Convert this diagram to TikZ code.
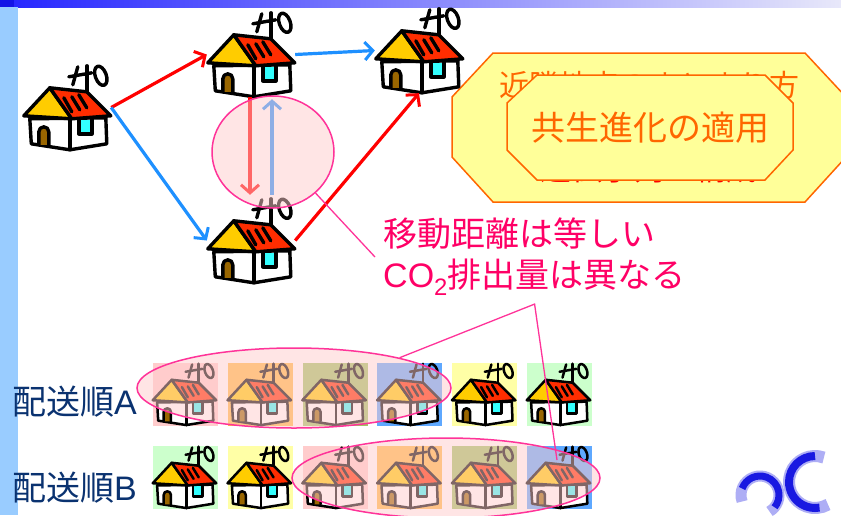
\documentclass[tikz,border=0pt]{standalone}
\usepackage{fontspec}
\setmainfont{Liberation Sans}
\newfontfamily\jp{Noto Sans CJK JP}
\usetikzlibrary{arrows.meta,shapes.geometric}

\definecolor{barblue}{RGB}{153,204,255}
\definecolor{topdark}{RGB}{20,20,230}
\definecolor{topmid}{RGB}{40,40,255}
\definecolor{topend}{RGB}{232,232,250}
\definecolor{octfill}{RGB}{255,255,153}
\definecolor{octline}{RGB}{255,102,0}
\definecolor{txtorange}{RGB}{255,102,0}
\definecolor{txtred}{RGB}{255,0,0}
\definecolor{txtpink}{RGB}{255,0,102}
\definecolor{leadpink}{RGB}{255,51,153}
\definecolor{veilpink}{RGB}{255,204,204}
\definecolor{arrred}{RGB}{255,0,0}
\definecolor{arrblue}{RGB}{30,144,255}
\definecolor{navy}{RGB}{10,50,112}
\definecolor{roofyel}{RGB}{255,204,0}
\definecolor{roofred}{RGB}{255,45,0}
\definecolor{doorbrn}{RGB}{153,102,0}
\definecolor{wincyan}{RGB}{51,255,255}
\definecolor{tpink}{RGB}{255,204,204}
\definecolor{torange}{RGB}{255,187,68}
\definecolor{tolive}{RGB}{160,196,100}
\definecolor{tblue}{RGB}{94,168,255}
\definecolor{tyellow}{RGB}{255,255,166}
\definecolor{tgreen}{RGB}{204,255,204}
\definecolor{logoblue}{RGB}{25,25,225}

\tikzset{
  hline/.style={line width=3.4pt, line join=round, line cap=round},
  smallhouse/.style={scale=0.73, hline/.style={line width=2.5pt, line join=round, line cap=round}},
  hbox/.style={rectangle, inner sep=0pt, minimum width=88pt, minimum height=85pt},
  arr/.style={line width=3.2pt, -{Straight Barb[length=8pt,width=18pt,line width=3pt]}},
  redarr/.style={arr, draw=arrred},
  bluearr/.style={arr, draw=arrblue},
  leader/.style={draw=leadpink, line width=1.3pt},
  veil/.style={fill=veilpink, fill opacity=0.5, draw=leadpink, line width=1.5pt},
  octa/.style={fill=octfill, draw=octline, line width=1.5pt, line join=miter},
  pics/house/.style={code={
    % walls
    \filldraw[fill=white, hline] (7,54) -- (8.5,79) -- (47,85) -- (84,79) -- (83,53) -- cycle;
    \draw[hline] (47,54) -- (47,85);
    % door
    \filldraw[fill=doorbrn, hline] (16,80) -- (16,67) arc[start angle=180, end angle=360, radius=5] -- (26,80);
    % window
    \fill[wincyan] (57,55) rectangle (68,68);
    \draw[hline] (56,54) -- (56,69) -- (69,69) -- (69,54);
    % roof
    \filldraw[fill=roofyel, hline] (1,51) -- (27,23) -- (49,54) -- cycle;
    \filldraw[fill=roofred, hline] (27,23) -- (64,27) -- (88,51) -- (49,54) -- cycle;
    \draw[hline] (41,33) -- (49,47) (49,32) -- (57,45) (56,30) -- (64,43);
    % antenna with the H and O
    \draw[hline] (64,1) -- (64,27);
    \draw[hline] (55,2) -- (50,20);
    \draw[hline] (46,12) -- (69,8);
    \draw[hline, rotate around={20:(78,11)}] (78,11) ellipse[x radius=5.5, y radius=10];
  }}
}

\begin{document}
\begin{tikzpicture}[x=1pt,y=-1pt]
\useasboundingbox (0,0) rectangle (841,515);
\fill[white] (0,0) rectangle (841,515);

% title bar and side bar
\shade[left color=topmid, right color=topend] (14,0) rectangle (841,7);
\fill[topdark] (0,0) rectangle (14,7);
\fill[barblue] (0,7) rectangle (18,515);

% octagon panels
\draw[octa] (452,97) -- (493,53) -- (805,53) -- (846,97) -- (846,157) -- (805,202) -- (493,202) -- (452,157) -- cycle;
\node[text=txtorange, font=\jp\fontsize{30pt}{36pt}\selectfont, inner sep=0pt] (o1) at (649,85) {近隣地点のまとまり方};
\node[text=txtred, font=\jp\fontsize{31pt}{36pt}\selectfont, inner sep=0pt] (o2) at (649,169) {遺伝子列の構成};
\draw[octa] (507,103) -- (537,75) -- (765,75) -- (793,103) -- (793,150) -- (765,180) -- (537,180) -- (507,150) -- cycle;
\node[text=txtorange, font=\jp\fontsize{34pt}{40pt}\selectfont, inner sep=0pt] (o3) at (650,128) {共生進化の適用};

% houses of the route graph
\node[hbox] (h1) at (67,107.5) {};
\node[hbox] (h2) at (251,54.5) {};
\node[hbox] (h3) at (419,50.5) {};
\node[hbox] (h4) at (251,240.5) {};
\foreach \h in {h1,h2,h3,h4} \pic at (\h.north west) {house};

% routes
\draw[redarr] (h1.east) -- (h2.west);
\draw[bluearr] (h1.east) -- (h4.west);
\draw[bluearr] (h2.east) -- (h3.west);
\draw[redarr] (h4.east) -- (h3.south);
\draw[redarr] ([xshift=-1pt]h2.south) -- ([xshift=-1pt,yshift=3pt]h4.north);
\draw[bluearr] ([xshift=21pt,yshift=3pt]h4.north) -- ([xshift=21pt,yshift=-2pt]h2.south);

% highlighted pair
\node[ellipse, veil, minimum width=122pt, minimum height=112pt, inner sep=0pt] (c1) at (273,152) {};

% annotation
\node[text=txtpink, font=\jp\fontsize{34pt}{41pt}\selectfont, align=left, inner sep=8pt, anchor=west] (t1) at (375,257)
  {移動距離は等しい\\{\rmfamily CO\textsubscript{2}}排出量は異なる};
\draw[leader] (c1.-44) -- (t1.west);

% delivery orders
\foreach \c [count=\i from 0] in {tpink,torange,tolive,tblue,tyellow,tgreen} {
  \fill[\c] (153+74.8*\i,363) rectangle ++(65,63);
  \pic[smallhouse] at (152+74.8*\i,363) {house};
}
\foreach \c [count=\i from 0] in {tgreen,tyellow,tpink,torange,tolive,tblue} {
  \fill[\c] (153+74.8*\i,446) rectangle ++(65,63);
  \pic[smallhouse] at (152+74.8*\i,446) {house};
}
\node[ellipse, veil, minimum width=314pt, minimum height=80pt, inner sep=0pt] (eA) at (294,388) {};
\node[ellipse, veil, minimum width=308pt, minimum height=80pt, inner sep=0pt] (eB) at (446,478) {};
\coordinate (eBin) at ([shift={(111,-18)}]eB.center);
\draw[leader] (eA.16) -- (t1.south) -- (eBin);

\node[text=navy, font=\fontsize{34pt}{40pt}\selectfont, inner sep=0pt, anchor=west] (la) at (12,402) {{\jp 配送順}A};
\node[text=navy, font=\fontsize{34pt}{40pt}\selectfont, inner sep=0pt, anchor=west] (lb) at (12,488) {{\jp 配送順}B};

% logo
\draw[logoblue!35, line width=11pt] (760,495) ++(-200:19) arc[start angle=-200, end angle=60, radius=19];
\draw[logoblue, line width=7pt] (760,495) ++(-160:19) arc[start angle=-160, end angle=40, radius=19];
\draw[logoblue!35, line width=12pt] (815,482) ++(-70:26) arc[start angle=-70, end angle=-300, radius=26];
\draw[logoblue, line width=8pt] (815,482) ++(-90:26) arc[start angle=-90, end angle=-280, radius=26];
\end{tikzpicture}
\end{document}
